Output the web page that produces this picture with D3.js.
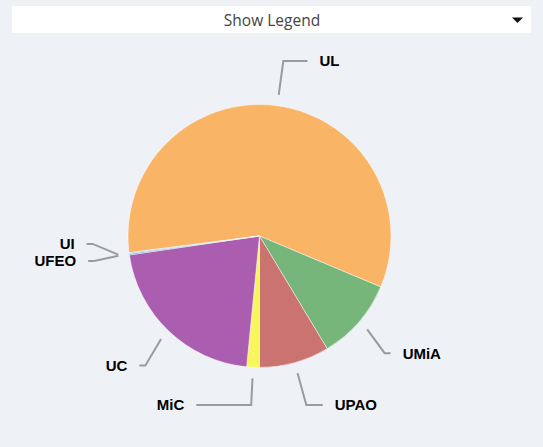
<!DOCTYPE html>
<html>
<head>
<meta charset="utf-8">
<script src="https://cdn.jsdelivr.net/npm/d3@7"></script>
<style>
  body{margin:0;background:#eef1f6;}
  svg{display:block;}
</style>
</head>
<body>
<div id="chart"></div>
<script>
// slice data (percent of total)
var categories = ["UL","UMiA","UPAO","MiC","UC","UFEO","UI"];
var shares     = [58.36, 10.06, 8.61, 1.56, 21.14, 0.15, 0.12];
var sliceColours = ["#f9b466","#76b67a","#cb7371","#f8f65c","#ab5eb0","#5a9fd4","#8fbfe0"];

var width = 543, height = 447;
var cx = 259.5, cy = 236, radius = 131.5;

var svg = d3.select("#chart")
  .append("svg")
  .attr("width", width)
  .attr("height", height);

// "Show Legend" dropdown bar
var bar = svg.append("g").attr("class","legendToggle");
bar.append("rect")
  .attr("x",12).attr("y",6)
  .attr("width",519).attr("height",27)
  .attr("fill","#fff");
bar.append("text")
  .attr("x",272).attr("y",25.5)
  .attr("text-anchor","middle")
  .style("font-family","'Open Sans', sans-serif")
  .style("font-size","15.5px")
  .style("fill","#444")
  .text("Show Legend");
bar.append("path")
  .attr("d","M512,17.5 L523,17.5 L517.5,23 Z")
  .attr("fill","#111");

var table = categories.map(function(c,i){
  return {name:c, value:shares[i], colour:sliceColours[i]};
});

var startDeg = 262.7 - 360;
var pie = d3.pie()
  .sort(null)
  .value(function(d){ return d.value; })
  .startAngle(startDeg*Math.PI/180)
  .endAngle((startDeg+360)*Math.PI/180);

var arc = d3.arc().innerRadius(0).outerRadius(radius);

var arcs = pie(table);

var g = svg.append("g")
  .attr("class","mainGroup")
  .attr("transform","translate(" + cx + "," + cy + ")");

g.selectAll("path.slice")
  .data(arcs)
  .enter()
  .append("path")
  .attr("class","slice")
  .attr("d", arc)
  .attr("fill", function(d){ return d.data.colour; })
  .attr("stroke","#fff")
  .attr("stroke-opacity",0.6)
  .attr("stroke-width",0.8);

// label layout: natural spot on a wider circle, clamped to the band, then de-collided per side
var labelTop = 61, labelBottom = 405, spacing = 17;
arcs.forEach(function(d){
  d.mid = (d.startAngle + d.endAngle)/2;
  d.side = Math.sin(d.mid) >= 0 ? 1 : -1;
  var y = cy - Math.cos(d.mid)*(radius + 47.5);
  d.ly = Math.max(labelTop, Math.min(labelBottom, y));
});

[1,-1].forEach(function(side){
  var list = arcs.filter(function(d){ return d.side == side; })
    .sort(function(a,b){ return a.ly - b.ly; });
  for(var i = list.length - 2 ; i >= 0 ; i--){
    if(list[i+1].ly - list[i].ly < spacing){
      list[i].ly = list[i+1].ly - spacing;
    }
  }
});

arcs.forEach(function(d){
  var dy = d.ly - cy;
  var tr = 185;
  d.tx = cx + d.side*Math.sqrt(Math.max(0, tr*tr - dy*dy));
  d.lineEnd = d.tx - d.side*12;
  d.touch = [cx + Math.sin(d.mid)*(radius+11), cy - Math.cos(d.mid)*(radius+11)];
  var c = -Math.cos(d.mid);
  var rr = c != 0 ? dy/c : -1;
  var rayX = (rr >= radius + 30) ? cx + Math.sin(d.mid)*rr : null;
  if(d.side > 0){
    d.elbow = rayX === null ? d.lineEnd - 6 : Math.min(rayX, d.lineEnd - 6);
  }else{
    d.elbow = rayX === null ? d.lineEnd + 6 : Math.max(rayX, d.lineEnd + 6);
  }
});

var labels = svg.append("g").attr("class","labels");

labels.selectAll("path.connector")
  .data(arcs)
  .enter()
  .append("path")
  .attr("class","connector")
  .attr("d", function(d){
    return "M" + d.lineEnd + "," + d.ly +
           " L" + d.elbow + "," + d.ly +
           " L" + d.touch[0] + "," + d.touch[1];
  })
  .attr("fill","none")
  .attr("stroke","#9b9b9b")
  .attr("stroke-width",2);

labels.selectAll("text.lbl")
  .data(arcs)
  .enter()
  .append("text")
  .attr("class","lbl")
  .attr("x", function(d){ return d.tx; })
  .attr("y", function(d){ return d.ly + 5.3; })
  .attr("text-anchor", function(d){ return d.side > 0 ? "start" : "end"; })
  .style("font-family","'Liberation Sans', Arial, sans-serif")
  .style("font-weight","bold")
  .style("font-size","15px")
  .style("fill","#000")
  .text(function(d){ return d.data.name; });
</script>
</body>
</html>
